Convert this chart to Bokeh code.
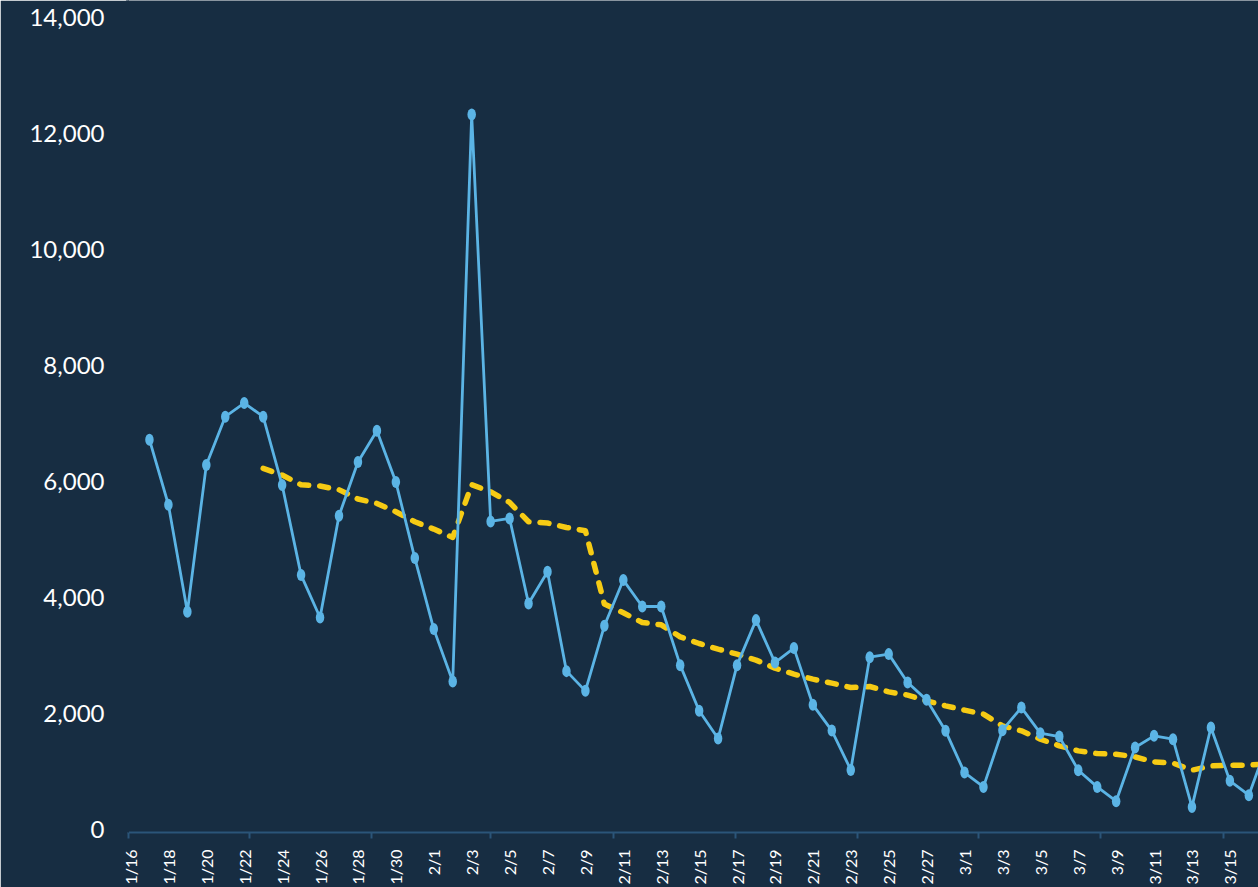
import pandas as pd
from math import pi
from bokeh.plotting import figure
from bokeh.models import Range1d, FixedTicker, NumeralTickFormatter
from bokeh.embed import file_html
from bokeh.resources import INLINE

# ---- data ----
start_day = pd.Timestamp("2021-01-16")
dates = pd.date_range("2021-01-17", periods=60, freq="D")

daily = [6719, 5598, 3753, 6282, 7115, 7351, 7115, 5938, 4386, 3655,
         5409, 6334, 6874, 5990, 4679, 3455, 2552, 12322, 5310, 5362,
         3897, 4443, 2731, 2391, 3512, 4300, 3845, 3845, 2834, 2047,
         1569, 2834, 3610, 2879, 3128, 2150, 1707, 1029, 2972, 3024,
         2534, 2236, 1702, 983, 736, 1714, 2103, 1662, 1603, 1024,
         736, 490, 1414, 1616, 1559, 391, 1759, 840, 593, 1495]

rolling = [None, None, None, None, None, None,
           6224, 6110, 5943, 5921, 5857, 5697, 5621, 5478, 5305, 5179,
           5034, 5943, 5822, 5638, 5305, 5283, 5207, 5150, 3886, 3736,
           3569, 3529, 3322, 3207, 3110, 3024, 2921, 2783, 2679, 2593,
           2524, 2448, 2466, 2374, 2317, 2219, 2133, 2059, 1990, 1788,
           1702, 1559, 1443, 1357, 1310, 1300, 1253, 1167, 1145, 1024,
           1098, 1110, 1110, 1138]

tick_labels = ["1/16", "1/18", "1/20", "1/22", "1/24", "1/26", "1/28", "1/30",
               "2/1", "2/3", "2/5", "2/7", "2/9", "2/11", "2/13", "2/15",
               "2/17", "2/19", "2/21", "2/23", "2/25", "2/27", "3/1", "3/3",
               "3/5", "3/7", "3/9", "3/11", "3/13", "3/15"]
y_ticks = [0, 2000, 4000, 6000, 8000, 10000, 12000, 14000]

# ---- derived x positions (days since 1/16) ----
x = [(d - start_day).days for d in dates]
label_days = [2 * i for i in range(len(tick_labels))]
axis_mark_days = [-0.1, 6.3, 12.7, 19.0, 25.5, 31.9, 38.35, 44.75, 51.15, 57.65]
roll_y = [float("nan") if v is None else v for v in rolling]

BG = "#172D42"
BLUE = "#5BB4E5"
YELLOW = "#F6CB14"
AXIS = "#2B5579"
FONT = "Lato"

p = figure(width=1258, height=887, output_backend="svg", toolbar_location=None,
           x_range=Range1d(-0.158, 59.51), y_range=Range1d(-50, 14288),
           min_border_left=127, min_border_right=0, min_border_top=0,
           min_border_bottom=55)
p.background_fill_color = BG
p.border_fill_color = BG
p.outline_line_color = None
p.xgrid.visible = False
p.ygrid.visible = False

# rolling average (dashed)
p.line(x, roll_y, line_color=YELLOW, line_width=5.5, line_dash="9 11",
       line_cap="round", line_join="round")
# daily values
p.line(x, daily, line_color=BLUE, line_width=2.8)
p.ellipse(x, daily, width=8.5, height=12, width_units="screen",
          height_units="screen", fill_color=BLUE, line_color=None)

# x axis
xa = p.xaxis[0]
xa.ticker = FixedTicker(ticks=label_days, minor_ticks=axis_mark_days)
xa.major_label_overrides = {d: t for d, t in zip(label_days, tick_labels)}
xa.major_label_orientation = pi / 2
xa.major_label_text_font = FONT
xa.major_label_text_font_size = "16px"
xa.major_label_text_color = "#FFFFFF"
xa.major_label_standoff = 11
xa.major_tick_out = 0
xa.major_tick_in = 0
xa.minor_tick_out = 6
xa.minor_tick_in = 0
xa.minor_tick_line_color = AXIS
xa.minor_tick_line_width = 2
xa.axis_line_color = AXIS
xa.axis_line_width = 2

# y axis (its line painted in the background colour, hides the frame seam)
ya = p.yaxis[0]
ya.ticker = FixedTicker(ticks=y_ticks, minor_ticks=[])
ya.formatter = NumeralTickFormatter(format="0,0")
ya.major_label_text_font = FONT
ya.major_label_text_font_size = "24px"
ya.major_label_text_color = "#FFFFFF"
ya.major_label_standoff = 23
ya.axis_line_color = BG
ya.axis_line_width = 3
ya.major_tick_out = 0
ya.major_tick_in = 0
ya.minor_tick_out = 0
ya.minor_tick_in = 0

open("out.html", "w").write(file_html(p, INLINE))
